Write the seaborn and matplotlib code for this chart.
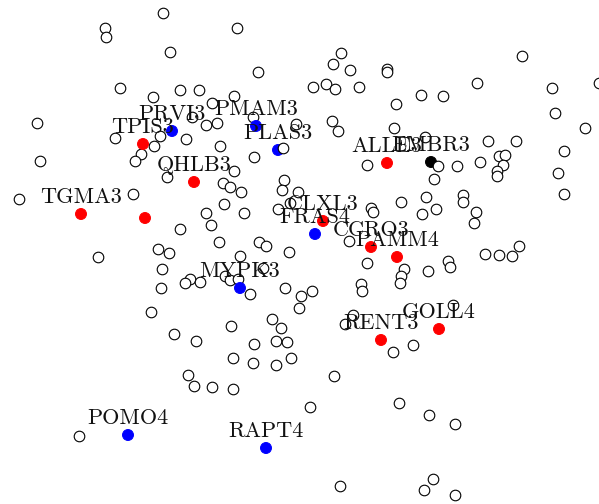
import matplotlib
matplotlib.use("Agg")
import matplotlib.pyplot as plt
import seaborn as sns
import pandas as pd

sns.set_style("white")

# background (unlabelled) features, positions
bg_x = [163, 105, 106, 237, 170, 258, 120, 153, 180, 199, 234, 212, 37, 253, 192, 206, 217, 160,
        186, 115, 154, 141, 220, 283, 296, 40, 135, 254, 234,
        341, 333, 350, 387, 387, 313, 326, 335, 359, 396, 421, 443, 477, 522, 552, 555, 599, 585,
        332, 338, 394, 425, 488, 516, 564, 367, 438, 457, 480, 499, 505, 503, 497, 497,
        434, 558, 564, 426, 463, 463, 436, 422, 476, 401, 371, 373, 474,
        19, 133, 167, 223, 230, 241, 284, 282, 298, 290, 278, 224, 244, 206, 211, 180, 219, 259,
        266, 289, 158, 169, 240, 98, 162, 190, 185, 200, 161, 225, 230, 238, 263, 250, 285, 301,
        312, 299, 151, 272, 281, 231, 174, 196, 254, 276, 287,
        349, 367, 361, 362, 404, 401, 400, 428, 448, 450, 485, 499, 512, 519, 453, 353, 345, 393,
        413, 334, 310, 399, 429, 455, 340, 433, 424, 455,
        233, 253, 276, 291, 188, 194, 212, 233, 79]
bg_y = [13, 28, 37, 28, 52, 72, 88, 97, 90, 90, 96, 103, 123, 117, 117, 125, 123, 136,
        139, 138, 146, 154, 146, 148, 124, 161, 161, 157, 171,
        53, 64, 70, 69, 72, 87, 84, 89, 87, 104, 95, 96, 83, 56, 88, 113, 83, 128,
        121, 131, 128, 137, 141, 141, 151, 165, 166, 166, 162, 156, 155, 165, 171, 176,
        179, 173, 194, 197, 195, 202, 209, 214, 212, 202, 208, 212, 223,
        199, 194, 177, 183, 187, 192, 180, 190, 192, 203, 209, 204, 213, 213, 225, 229, 242, 242,
        246, 252, 249, 253, 256, 257, 269, 279, 283, 282, 288, 276, 280, 279, 268, 294, 288, 296,
        291, 308, 312, 319, 328, 326, 334, 341, 344, 341, 342,
        241, 263, 284, 291, 269, 276, 283, 271, 261, 267, 254, 255, 256, 246, 305, 315, 324, 352,
        345, 376, 407, 403, 415, 424, 486, 479, 490, 495,
        358, 363, 365, 358, 375, 386, 387, 389, 436]

# highlighted features
genes = ["TPIS3", "PRVI3", "PMAM3", "PLAS3", "QHLB3", "ALLE3", "EMBR3", "TGMA3", "",
         "CLXL3", "FRAS4", "CCRO3", "PAMM4", "MYPK3", "RENT3", "GOLL4", "POMO4", "RAPT4"]
gene_x = [143, 172, 256, 278, 194, 387, 431, 81, 145, 323, 315, 371, 397, 240, 381, 439, 128, 266]
gene_y = [144, 131, 126, 150, 182, 163, 162, 214, 218, 221, 234, 247, 257, 288, 340, 329, 435, 448]
gene_class = ["up", "down", "down", "down", "up", "up", "ref", "up", "up",
              "up", "down", "up", "up", "down", "up", "up", "down", "down"]
drawn_under = ["PLAS3", "EMBR3"]

palette = {"up": "#ff0000", "down": "#0000ff", "ref": "#000000"}

bg = pd.DataFrame({"x": bg_x, "y": bg_y})
hl = pd.DataFrame({"gene": genes, "x": gene_x, "y": gene_y, "cls": gene_class})
under = hl[hl["gene"].isin(drawn_under)]
over = hl[~hl["gene"].isin(drawn_under)]

fig = plt.figure(figsize=(5.99, 5.04), dpi=100)
ax = fig.add_axes([0, 0, 1, 1])

sns.scatterplot(data=under, x="x", y="y", hue="cls", palette=palette, s=62,
                edgecolor="face", linewidth=0.7, legend=False, ax=ax)
sns.scatterplot(data=bg, x="x", y="y", color="white", edgecolor="black",
                s=58, linewidth=0.8, legend=False, ax=ax)
sns.scatterplot(data=over, x="x", y="y", hue="cls", palette=palette, s=62,
                edgecolor="face", linewidth=0.7, legend=False, ax=ax)

for _, r in hl.iterrows():
    if r["gene"]:
        ax.annotate(r["gene"], (r["x"], r["y"]), xytext=(0, 8), textcoords="offset points",
                    ha="center", va="baseline", fontsize=16, family="cmr10", color="#111111")

ax.set_xlim(0, 599)
ax.set_ylim(504, 0)
ax.axis("off")

fig.savefig("out.png", dpi=100)
